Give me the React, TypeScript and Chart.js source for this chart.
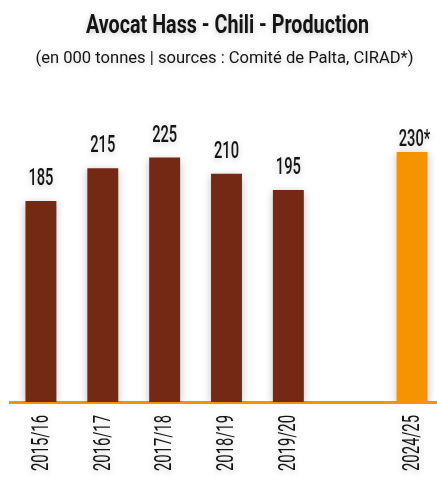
import React, { useEffect, useRef } from "react";
import { Chart, registerables } from "chart.js";

Chart.register(...registerables);

const categories = ["2015/16", "2016/17", "2017/18", "2018/19", "2019/20", "", "2024/25"];
const production = [185, 215, 225, 210, 195, null, 230];
const valueLabels = ["185", "215", "225", "210", "195", "", "230*"];
const titleText = "Avocat Hass - Chili - Production";
const subtitleText = "(en 000 tonnes | sources : Comité de Palta, CIRAD*)";

const BROWN = "#732913";
const ORANGE = "#F59400";
const TEXT = "#141414";
const FONT = "Roboto, 'Liberation Sans', sans-serif";

function condensed(ctx: CanvasRenderingContext2D, font: string, sample: string, targetW: number) {
  ctx.font = font;
  const w = ctx.measureText(sample).width;
  return w > 0 ? targetW / w : 1;
}

function shadowOn(ctx: CanvasRenderingContext2D, alpha: number, blur: number) {
  ctx.shadowColor = `rgba(0,0,0,${alpha})`;
  ctx.shadowBlur = blur;
  ctx.shadowOffsetX = 0;
  ctx.shadowOffsetY = 2;
}

const textPlugin = {
  id: "customText",
  beforeDatasetsDraw(chart: any) {
    const ctx = chart.ctx as CanvasRenderingContext2D;
    ctx.save();
    shadowOn(ctx, 0.25, 8);
  },
  afterDatasetsDraw(chart: any) {
    const ctx = chart.ctx as CanvasRenderingContext2D;
    ctx.restore();
  },
  afterDraw(chart: any) {
    const ctx = chart.ctx as CanvasRenderingContext2D;
    const area = chart.chartArea;
    const cx = (area.left + area.right) / 2;
    ctx.save();
    ctx.fillStyle = TEXT;
    shadowOn(ctx, 0.22, 6);

    // title
    const tFont = `bold 25px ${FONT}`;
    const tsx = condensed(ctx, tFont, titleText, 283);
    ctx.font = tFont;
    ctx.textAlign = "center";
    ctx.textBaseline = "alphabetic";
    ctx.save();
    ctx.translate(cx + 1, 33);
    ctx.scale(tsx, 1);
    ctx.fillText(titleText, 0, 0);
    ctx.restore();

    // subtitle
    const sFont = `16px ${FONT}`;
    const ssx = condensed(ctx, sFont, subtitleText, 378);
    ctx.font = sFont;
    ctx.save();
    ctx.translate(cx - 2, 63);
    ctx.scale(ssx, 1);
    ctx.fillText(subtitleText, 0, 0);
    ctx.restore();

    // value labels
    const meta = chart.getDatasetMeta(0);
    const vFont = `500 24px ${FONT}`;
    const vsx = condensed(ctx, vFont, "185", 25);
    ctx.font = vFont;
    meta.data.forEach((bar: any, i: number) => {
      const label = valueLabels[i];
      if (!label || production[i] == null) return;
      const off = i === meta.data.length - 1 ? 6 : 16;
      ctx.save();
      ctx.translate(bar.x, bar.y - off);
      ctx.scale(vsx, 1);
      ctx.textAlign = "center";
      ctx.fillText(label, label.endsWith("*") ? 4 : 0, 0);
      ctx.restore();
    });

    // category labels (rotated)
    const xScale = chart.scales.x;
    const kFont = `23px ${FONT}`;
    const ksx = condensed(ctx, kFont, "2015/16", 56);
    ctx.font = kFont;
    categories.forEach((cat, i) => {
      if (!cat) return;
      const x = xScale.getPixelForValue(i);
      ctx.save();
      ctx.translate(x + 1, area.bottom + 13);
      ctx.rotate(-Math.PI / 2);
      ctx.scale(ksx, 1);
      ctx.textAlign = "right";
      ctx.textBaseline = "middle";
      ctx.fillText(cat, 0, 0);
      ctx.restore();
    });
    ctx.restore();
  },
};

export default function App() {
  const ref = useRef<HTMLCanvasElement | null>(null);
  useEffect(() => {
    if (!ref.current) return;
    const chart = new Chart(ref.current, {
      type: "bar",
      data: {
        labels: categories,
        datasets: [
          {
            data: production as any,
            backgroundColor: production.map((_, i) => (i === production.length - 1 ? ORANGE : BROWN)),
            barPercentage: 0.5,
            categoryPercentage: 1,
            borderWidth: 0,
          },
        ],
      },
      options: {
        responsive: false,
        animation: false,
        layout: { padding: { left: 10, right: 1, top: 76, bottom: 67 } },
        plugins: {
          legend: { display: false },
          title: { display: false },
          tooltip: { enabled: false },
        },
        scales: {
          x: {
            display: true,
            grid: { display: false },
            ticks: { display: false },
            border: { display: true, color: ORANGE, width: 3 },
          },
          y: { display: false, min: 0, max: 300 },
        },
      },
      plugins: [textPlugin],
    });
    return () => chart.destroy();
  }, []);
  return (
    <div style={{ position: "fixed", left: 0, top: 0, width: 437, height: 477, overflow: "hidden", background: "#fff" }}>
      <canvas ref={ref} width={444} height={477} style={{ display: "block", width: 444, height: 477 }} />
    </div>
  );
}
